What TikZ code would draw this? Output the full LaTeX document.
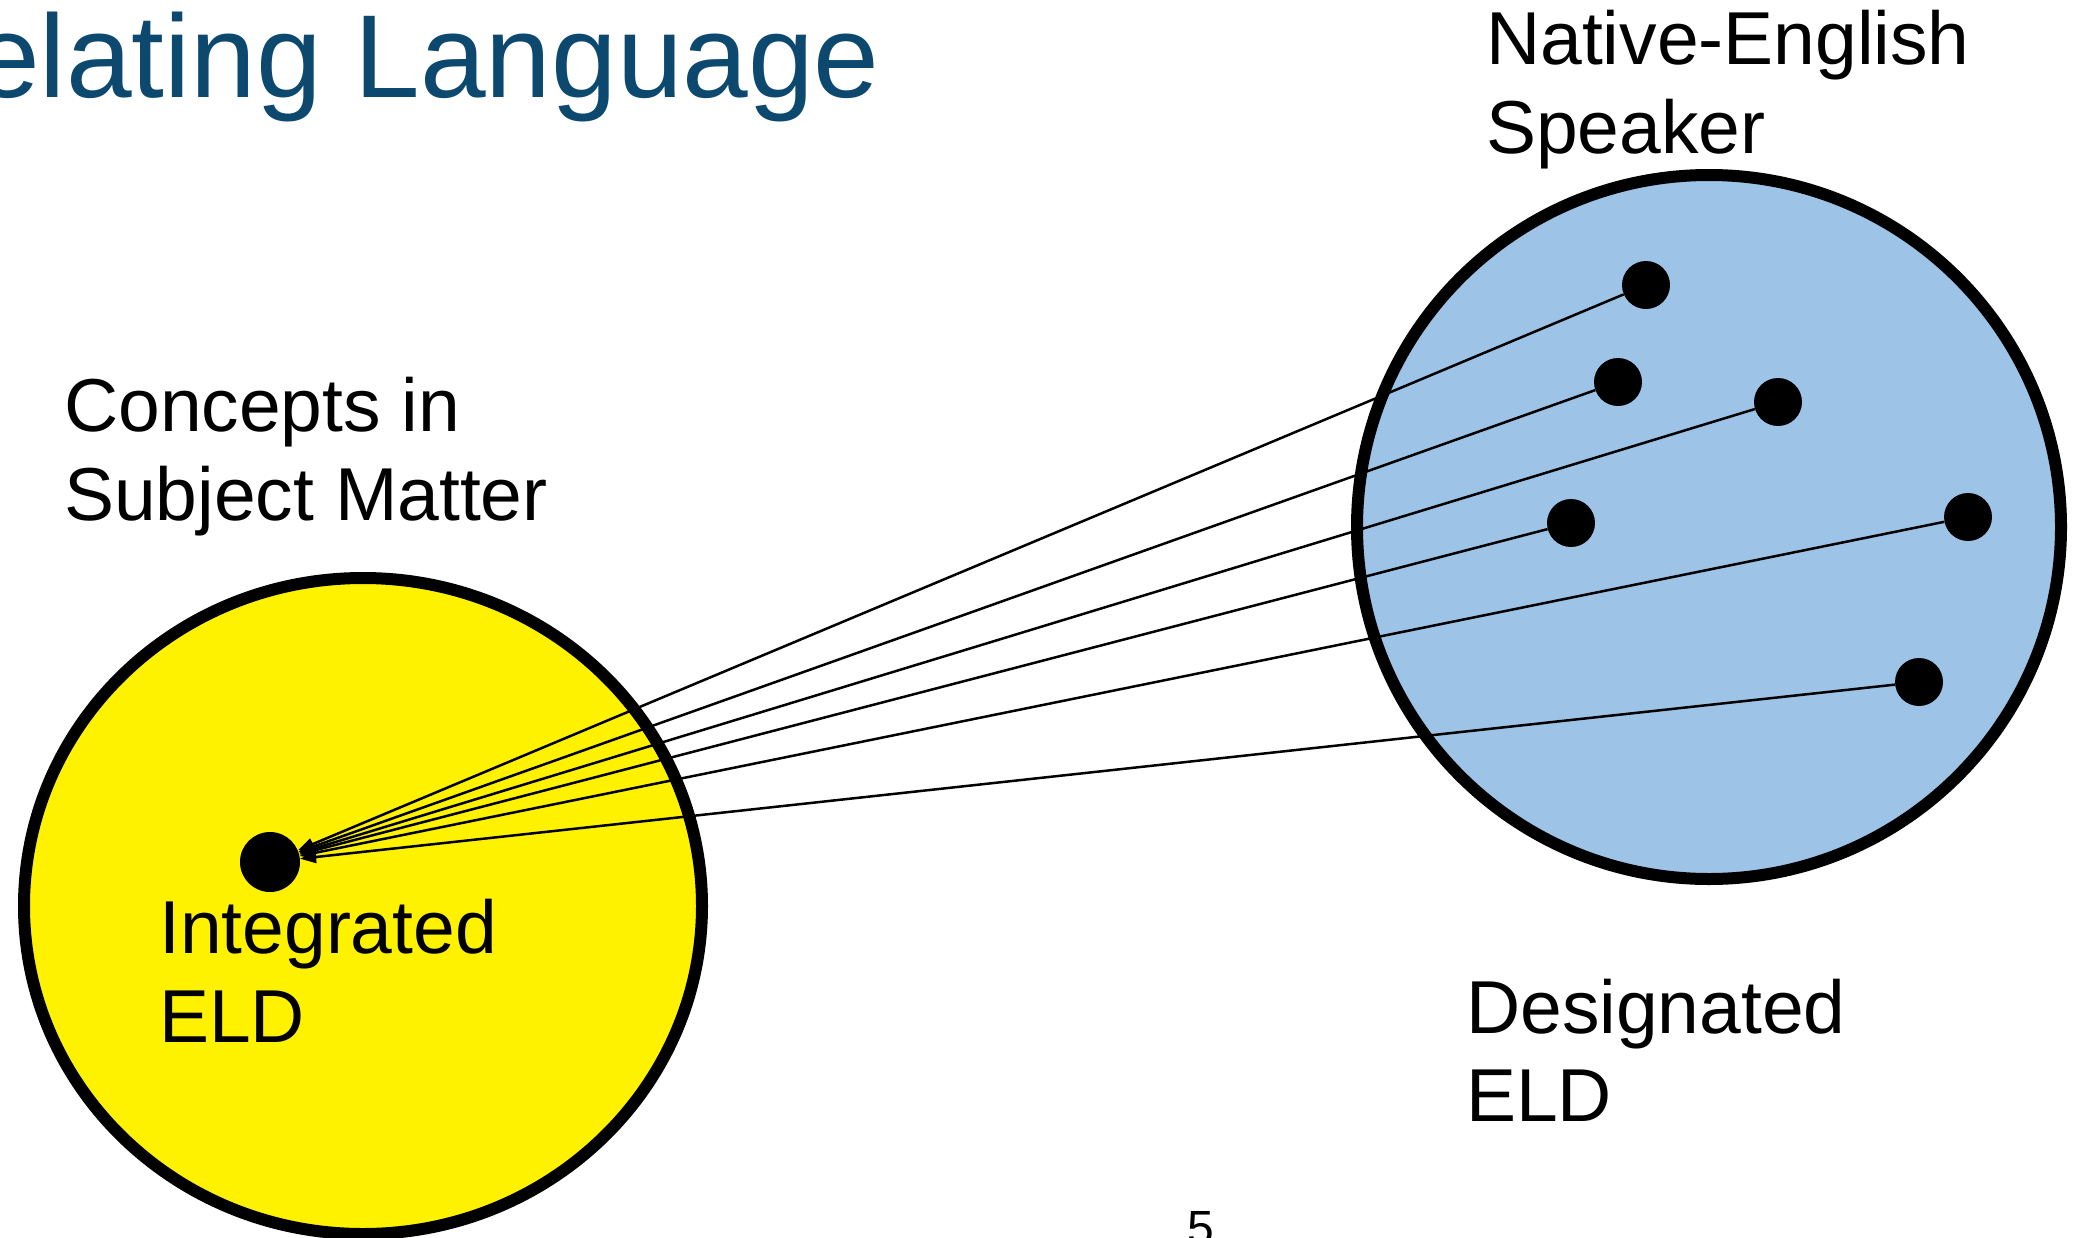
\documentclass[tikz,border=0pt]{standalone}
\usepackage{fontspec}
\setmainfont{Liberation Sans}
\usetikzlibrary{arrows.meta}
\definecolor{titleblue}{RGB}{13,73,110}
\definecolor{bluefill}{RGB}{157,195,230}
\begin{document}
\begin{tikzpicture}[x=1pt,y=-1pt,
  lbl/.style={anchor=base west, inner sep=0pt, font=\fontsize{75}{89}\selectfont},
  ring/.style={line width=12pt, draw=black},
  dotnode/.style={circle, fill=black, inner sep=0pt, minimum size=48pt},
  conn/.style={line width=2.5pt, -{Triangle[length=16pt,width=12pt]}}]
\useasboundingbox (0,0) rectangle (2080,1237);
\clip (0,0) rectangle (2080,1237);
\fill[white] (0,0) rectangle (2080,1237);
% circles
\draw[ring, fill=yellow] (363,906) ellipse [x radius=339, y radius=328];
\draw[ring, fill=bluefill] (1709,527) circle [radius=352];
% dots
\node[dotnode, minimum size=60pt] (yd) at (270,862) {};
\node[dotnode] (b1) at (1646,285) {};
\node[dotnode] (b2) at (1618,382) {};
\node[dotnode] (b3) at (1778,402) {};
\node[dotnode] (b4) at (1571,523) {};
\node[dotnode] (b5) at (1968,517) {};
\node[dotnode] (b6) at (1919,682) {};
% connectors
\foreach \b in {b1,b2,b3,b4,b5,b6} \draw[conn] (\b) -- (yd);
% texts
\node[anchor=base east, inner sep=0pt, text=titleblue, font=\fontsize{118}{140}\selectfont] (title) at (880,97) {Relating Language};
\node[lbl] (ne1) at (1486,64) {Native-English};
\node[lbl] (ne2) at (1486,153) {Speaker};
\node[lbl] (cs1) at (64,431) {Concepts in};
\node[lbl] (cs2) at (64,520) {Subject Matter};
\node[lbl] (ie1) at (159,953) {Integrated};
\node[lbl] (ie2) at (159,1042) {ELD};
\node[lbl] (de1) at (1466,1033) {Designated};
\node[lbl] (de2) at (1466,1121) {ELD};
\node[anchor=base west, inner sep=0pt, font=\fontsize{48}{56}\selectfont] (pg) at (1187,1244) {5};
\end{tikzpicture}
\end{document}
